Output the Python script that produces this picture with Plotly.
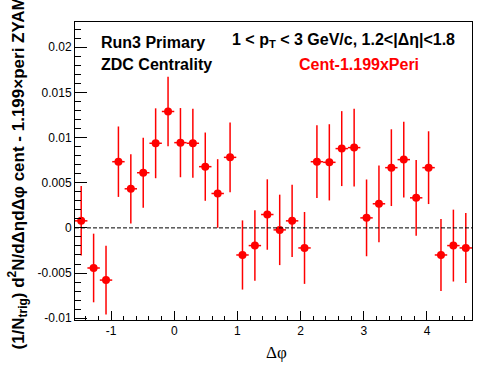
import math
import plotly.graph_objects as go

# ---- data ----
n_bins = 32
dphi_lo = -math.pi / 2
dphi_hi = 3 * math.pi / 2
bin_w = (dphi_hi - dphi_lo) / n_bins
dphi = [dphi_lo + (i + 0.5) * bin_w for i in range(n_bins)]

yield_vals = [0.00078, -0.00444, -0.00578, 0.00733, 0.00433, 0.00611, 0.00937, 0.01289,
              0.00944, 0.00937, 0.00678, 0.00381, 0.00781, -0.00300, -0.00196, 0.00148,
              -0.00022, 0.00078, -0.00222, 0.00733, 0.00726, 0.00878, 0.00889, 0.00111,
              0.00267, 0.00667, 0.00756, 0.00333, 0.00667, -0.00300, -0.00196, -0.00222]
yield_errs = [0.00385, 0.00380, 0.00380, 0.00390, 0.00383, 0.00387, 0.00387, 0.00385,
              0.00383, 0.00383, 0.00378, 0.00380, 0.00385, 0.00383, 0.00390, 0.00390,
              0.00390, 0.00400, 0.00398, 0.00403, 0.00422, 0.00415, 0.00430, 0.00425,
              0.00425, 0.00425, 0.00420, 0.00420, 0.00403, 0.00398, 0.00398, 0.00387]

y_tickvals = [-0.01, -0.005, 0, 0.005, 0.01, 0.015, 0.02]
y_ticktext = ["-0.01", "-0.005", "0", "0.005", "0.01", "0.015", "0.02"]
x_tickvals = [-1, 0, 1, 2, 3, 4]
x_ticktext = ["-1", "0", "1", "2", "3", "4"]

y_range = [-0.0102, 0.0228]

# ---- layout geometry ----
W, H = 496, 374
ML, MR, MT, MB = 75, 24, 22, 54
PW, PH = W - ML - MR, H - MT - MB


def px(x):
    return (x - ML) / PW


def py(y):
    return (H - MB - y) / PH


fig = go.Figure()
fig.add_trace(go.Scatter(
    x=dphi, y=yield_vals, mode="markers",
    marker=dict(color="#ff0000", size=8, symbol="circle"),
    error_y=dict(type="data", array=yield_errs, color="#ff0000", thickness=1.5, width=0),
    error_x=dict(type="constant", value=bin_w / 2, color="#ff0000", thickness=1.5, width=0),
    showlegend=False,
))

# zero line
fig.add_shape(type="line", xref="x", yref="y", x0=dphi_lo, x1=dphi_hi, y0=0, y1=0,
              line=dict(color="black", width=1, dash="4px,2px"))

font_sans = "Liberation Sans, Arial, Helvetica, sans-serif"

fig.update_layout(
    template="none",
    width=W, height=H,
    margin=dict(l=ML, r=MR, t=MT, b=MB, autoexpand=False),
    paper_bgcolor="white", plot_bgcolor="white",
    font=dict(family=font_sans, color="black", size=12),
    xaxis=dict(range=[dphi_lo, dphi_hi], showgrid=False, zeroline=False, automargin=False,
               showline=True, linecolor="black", linewidth=1, mirror=True,
               ticks="inside", ticklen=9, tickcolor="black", tickwidth=1,
               tickvals=x_tickvals, ticktext=x_ticktext,
               tickfont=dict(size=12, family=font_sans),
               minor=dict(ticks="inside", ticklen=4, dtick=0.2, tick0=0,
                          tickcolor="black", showgrid=False)),
    yaxis=dict(range=y_range, showgrid=False, zeroline=False, automargin=False,
               showline=True, linecolor="black", linewidth=1, mirror=True,
               ticks="inside", ticklen=12, tickcolor="black", tickwidth=1,
               tickvals=y_tickvals, ticktext=y_ticktext,
               tickfont=dict(size=12, family=font_sans),
               minor=dict(ticks="inside", ticklen=6, dtick=0.001, tick0=0,
                          tickcolor="black", showgrid=False)),
)

annos = [
    dict(text="<b>Run3 Primary</b>", x=px(99), y=py(43), xanchor="left", yanchor="middle",
         font=dict(size=16, color="black")),
    dict(text="<b>ZDC Centrality</b>", x=px(99), y=py(65), xanchor="left", yanchor="middle",
         font=dict(size=16, color="black")),
    dict(text="<b>1 < p<sub>T</sub> < 3 GeV/c, 1.2<|Δη|<1.8</b>", x=px(230), y=py(40),
         xanchor="left", yanchor="middle", font=dict(size=16, color="black")),
    dict(text="<b>Cent-1.199xPeri</b>", x=px(297), y=py(64), xanchor="left", yanchor="middle",
         font=dict(size=16, color="#ff0000")),
    dict(text="Δφ", x=px(276), y=py(352), xanchor="center", yanchor="middle",
         font=dict(size=17, color="black", family="Liberation Serif, Times New Roman, serif")),
    dict(text="<b>(1/N<sub>trig</sub>) d<sup>2</sup>N/dΔηdΔφ cent - 1.199×peri ZYAMed</b>",
         textangle=-90, x=px(18), y=py(352), xanchor="center", yanchor="bottom",
         font=dict(size=17, color="black")),
]
for a in annos:
    a.update(xref="paper", yref="paper", showarrow=False)
    fig.add_annotation(**a)

fig.write_html("out.html",
               config={"displayModeBar": False},
               post_script="document.body.style.margin='0px';document.body.style.overflow='hidden';")
